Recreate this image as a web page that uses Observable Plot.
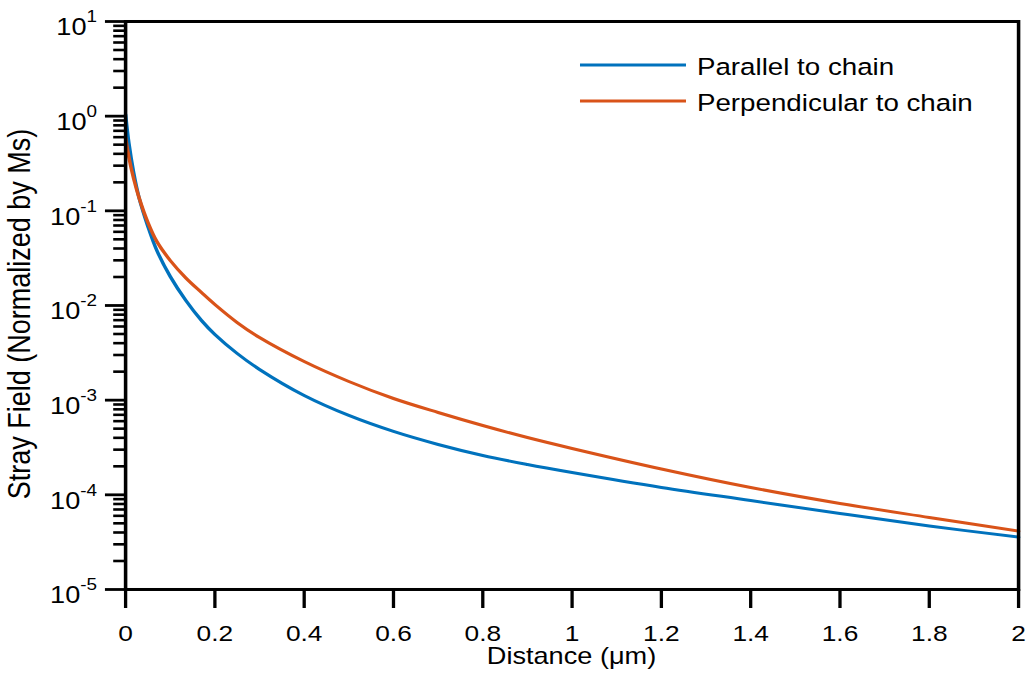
<!DOCTYPE html>
<html><head><meta charset="utf-8">
<script src="https://cdn.jsdelivr.net/npm/d3@7"></script>
<script src="https://cdn.jsdelivr.net/npm/@observablehq/plot@0.6"></script>
<style>
body{margin:0;background:#fff}
#wrap{width:1030px;height:681px;overflow:hidden;position:relative}
#wrap svg{transform:scaleX(1.18);transform-origin:0 0;font-family:"Liberation Sans",Arial,sans-serif;overflow:visible}
</style>
</head><body><div id="wrap"></div><script>
// Data
const distance = [0, 0.0075, 0.018, 0.03, 0.05, 0.07, 0.1, 0.135, 0.17, 0.2, 0.25, 0.3, 0.4, 0.5, 0.6, 0.7, 0.8, 0.9, 1.0, 1.2, 1.4, 1.6, 1.8, 2.0];
const parallel = [1.04, 0.514, 0.254, 0.1383, 0.0683, 0.0381, 0.02025, 0.01129, 0.00694, 0.00494, 0.00311, 0.00211, 0.00112, 6.89e-4, 4.67e-4, 3.40e-4, 2.60e-4, 2.09e-4, 1.72e-4, 1.196e-4, 8.71e-5, 6.35e-5, 4.69e-5, 3.57e-5];
const perpendicular = [0.595, 0.366, 0.2196, 0.1383, 0.0753, 0.0474, 0.02988, 0.01953, 0.01372, 0.01025, 0.00661, 0.00459, 0.00256, 0.001575, 0.001041, 7.41e-4, 5.40e-4, 4.03e-4, 3.09e-4, 1.875e-4, 1.195e-4, 8.10e-5, 5.76e-5, 4.13e-5];
const seriesNames = ["Parallel to chain", "Perpendicular to chain"];
const seriesColors = ["#0072BD", "#D95319"];
const xTicks = [0, 0.2, 0.4, 0.6, 0.8, 1, 1.2, 1.4, 1.6, 1.8, 2];
const yExponents = [-5, -4, -3, -2, -1, 0, 1];
const xLabel = "Distance (μm)";
const yLabel = "Stray Field (Normalized by Ms)";

const S = 1.18; // horizontal stretch of the reference
const majorY = yExponents.map(k => Math.pow(10, k));
const minorY = [];
for (const k of yExponents.slice(0, -1)) for (let m = 2; m <= 9; m++) minorY.push(m * Math.pow(10, k));

const rows = [];
distance.forEach((d, i) => rows.push({d, v: parallel[i], s: seriesNames[0]}));
distance.forEach((d, i) => rows.push({d, v: perpendicular[i], s: seriesNames[1]}));

const W = 1030 / S;
const plot = Plot.plot({
  width: W,
  height: 681,
  marginLeft: 125 / S,
  marginRight: W - 1018 / S,
  marginTop: 21,
  marginBottom: 92,
  x: {domain: [0, 2], axis: null},
  y: {type: "log", domain: [1e-5, 10], axis: null},
  color: {domain: seriesNames, range: seriesColors},
  marks: [
    Plot.line(rows, {x: "d", y: "v", z: "s", stroke: "s", strokeWidth: 3, curve: "catmull-rom"}),
    Plot.axisY({ticks: minorY, tickSize: 10, tickFormat: () => "", label: null, strokeWidth: 2.6, stroke: "black"}),
    Plot.axisY({ticks: majorY, tickSize: 17, tickFormat: () => "", label: null, strokeWidth: 2.8, stroke: "black"}),
    Plot.axisX({ticks: xTicks, tickSize: 19, tickPadding: 17, tickFormat: d => String(d), label: null, fontSize: 22.3, strokeWidth: 2.8, stroke: "black", fill: "black"}),
    Plot.frame({stroke: "black", strokeWidth: 3})
  ]
});

document.getElementById("wrap").appendChild(plot);
const svg = d3.select(plot);
const ys = plot.scale("y");
const xs = plot.scale("x");

// y tick labels with superscripts
const lab = svg.append("g").attr("fill", "black");
yExponents.forEach(k => {
  const t = lab.append("text")
    .attr("x", 97 / S)
    .attr("y", ys.apply(Math.pow(10, k)) + 14.3)
    .attr("text-anchor", "end")
    .attr("font-size", 23);
  t.append("tspan").text("10");
  t.append("tspan").attr("dy", -13).attr("font-size", 16).text(String(k));
});

// axis titles
svg.append("text")
  .attr("x", (xs.apply(0) + xs.apply(2)) / 2)
  .attr("y", 664)
  .attr("text-anchor", "middle")
  .attr("font-size", 23)
  .attr("fill", "black")
  .text(xLabel);
svg.append("text")
  .attr("transform", `translate(${30 / S},314) rotate(-90)`)
  .attr("text-anchor", "middle")
  .attr("font-size", 27)
  .attr("fill", "black")
  .text(yLabel);

// legend
const lg = svg.append("g");
seriesNames.forEach((name, i) => {
  const y = 65 + i * 36;
  lg.append("line").attr("x1", 580 / S).attr("x2", 686 / S).attr("y1", y).attr("y2", y)
    .attr("stroke", seriesColors[i]).attr("stroke-width", 3);
  lg.append("text").attr("x", 697 / S).attr("y", y + 10.5)
    .attr("text-anchor", "start")
    .attr("font-size", 23.5).attr("fill", "black").text(name);
});
</script></body></html>
